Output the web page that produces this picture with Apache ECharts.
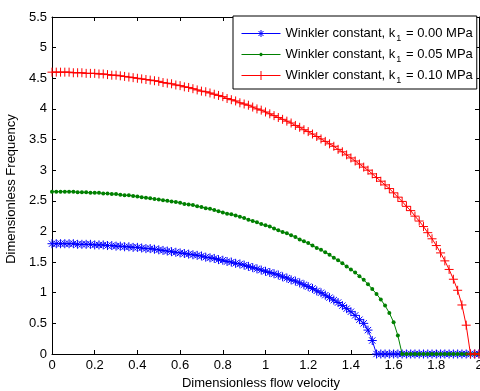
<!DOCTYPE html>
<html>
<head>
<meta charset="utf-8">
<script src="https://cdn.jsdelivr.net/npm/echarts@6/dist/echarts.min.js"></script>
<style>
  html, body { margin: 0; padding: 0; background: #fff; }
  #chart { width: 480px; height: 391px; }
</style>
</head>
<body>
<div id="chart"></div>
<script>
// Dimensionless flow velocity samples
const velocity = [
  0.00, 0.02, 0.04, 0.06, 0.08, 0.10, 0.12, 0.14, 0.16, 0.18,
  0.20, 0.22, 0.24, 0.26, 0.28, 0.30, 0.32, 0.34, 0.36, 0.38,
  0.40, 0.42, 0.44, 0.46, 0.48, 0.50, 0.52, 0.54, 0.56, 0.58,
  0.60, 0.62, 0.64, 0.66, 0.68, 0.70, 0.72, 0.74, 0.76, 0.78,
  0.80, 0.82, 0.84, 0.86, 0.88, 0.90, 0.92, 0.94, 0.96, 0.98,
  1.00, 1.02, 1.04, 1.06, 1.08, 1.10, 1.12, 1.14, 1.16, 1.18,
  1.20, 1.22, 1.24, 1.26, 1.28, 1.30, 1.32, 1.34, 1.36, 1.38,
  1.40, 1.42, 1.44, 1.46, 1.48, 1.50, 1.52, 1.54, 1.56, 1.58,
  1.60, 1.62, 1.64, 1.66, 1.68, 1.70, 1.72, 1.74, 1.76, 1.78,
  1.80, 1.82, 1.84, 1.86, 1.88, 1.90, 1.92, 1.94, 1.96, 1.98,
  2.00
];

// Dimensionless frequency, Winkler constant k1 = 0.00 MPa
const freqK000 = [
  1.80, 1.80, 1.80, 1.80, 1.80, 1.80, 1.79, 1.79, 1.79, 1.79,
  1.78, 1.78, 1.78, 1.77, 1.77, 1.76, 1.76, 1.75, 1.75, 1.74,
  1.74, 1.73, 1.72, 1.72, 1.71, 1.70, 1.69, 1.68, 1.67, 1.66,
  1.65, 1.64, 1.63, 1.62, 1.61, 1.60, 1.58, 1.57, 1.56, 1.54,
  1.53, 1.51, 1.50, 1.48, 1.47, 1.45, 1.43, 1.41, 1.39, 1.37,
  1.35, 1.33, 1.31, 1.29, 1.26, 1.24, 1.21, 1.19, 1.16, 1.13,
  1.10, 1.07, 1.03, 1.00, 0.96, 0.92, 0.88, 0.84, 0.79, 0.74,
  0.69, 0.63, 0.56, 0.50, 0.39, 0.22, 0, 0, 0, 0,
  0, 0, 0, 0, 0, 0, 0, 0, 0, 0,
  0, 0, 0, 0, 0, 0, 0, 0, 0, 0,
  0
];

// Dimensionless frequency, Winkler constant k1 = 0.05 MPa
const freqK005 = [
  2.65, 2.65, 2.65, 2.65, 2.65, 2.65, 2.64, 2.64, 2.64, 2.63,
  2.63, 2.63, 2.62, 2.62, 2.61, 2.61, 2.60, 2.59, 2.59, 2.58,
  2.57, 2.56, 2.55, 2.54, 2.53, 2.52, 2.51, 2.50, 2.49, 2.48,
  2.47, 2.45, 2.44, 2.43, 2.41, 2.40, 2.38, 2.37, 2.35, 2.33,
  2.31, 2.29, 2.28, 2.26, 2.24, 2.22, 2.19, 2.17, 2.15, 2.12,
  2.10, 2.08, 2.05, 2.02, 1.99, 1.97, 1.94, 1.91, 1.87, 1.84,
  1.81, 1.77, 1.73, 1.70, 1.66, 1.62, 1.57, 1.53, 1.48, 1.43,
  1.38, 1.33, 1.27, 1.21, 1.14, 1.06, 0.98, 0.89, 0.79, 0.67,
  0.52, 0.30, 0, 0, 0, 0, 0, 0, 0, 0,
  0, 0, 0, 0, 0, 0, 0, 0, 0, 0,
  0
];

// Dimensionless frequency, Winkler constant k1 = 0.10 MPa
const freqK010 = [
  4.60, 4.60, 4.60, 4.60, 4.60, 4.59, 4.59, 4.59, 4.58, 4.58,
  4.58, 4.57, 4.57, 4.56, 4.55, 4.55, 4.54, 4.53, 4.52, 4.51,
  4.50, 4.49, 4.48, 4.47, 4.46, 4.45, 4.43, 4.42, 4.41, 4.39,
  4.38, 4.36, 4.35, 4.33, 4.31, 4.29, 4.28, 4.26, 4.24, 4.22,
  4.20, 4.17, 4.15, 4.13, 4.10, 4.08, 4.06, 4.03, 4.00, 3.98,
  3.95, 3.92, 3.89, 3.86, 3.83, 3.80, 3.77, 3.73, 3.70, 3.66,
  3.63, 3.59, 3.55, 3.51, 3.47, 3.43, 3.39, 3.34, 3.30, 3.25,
  3.20, 3.15, 3.10, 3.05, 3.00, 2.94, 2.88, 2.82, 2.76, 2.70,
  2.63, 2.56, 2.49, 2.41, 2.34, 2.25, 2.17, 2.08, 1.98, 1.88,
  1.77, 1.65, 1.52, 1.38, 1.22, 1.04, 0.80, 0.47, 0, 0,
  0
];

const seriesNames = ['k1 = 0.00 MPa', 'k1 = 0.05 MPa', 'k1 = 0.10 MPa'];
const legendValues = ['0.00', '0.05', '0.10'];
const seriesColors = ['#0000ff', '#008000', '#ff0000'];

const FONT = 'Liberation Sans, Arial, Helvetica, sans-serif';
const FS = 13;

// Marker glyphs
const ASTERISK = 'path://M5,0L5,10M0,5L10,5M1.5,1.5L8.5,8.5M8.5,1.5L1.5,8.5';
const PLUS = 'path://M5,0L5,10M0,5L10,5';

// Legend keys: short line sample with the marker in its middle
const legendIcons = [
  'path://M0,4.5L39,4.5M19.5,1L19.5,8M16,4.5L23,4.5M17,2L22,7M22,2L17,7',
  'path://M0,4.5L39,4.5M18.2,4.5A1.3,1.3,0,1,0,20.8,4.5A1.3,1.3,0,1,0,18.2,4.5Z',
  'path://M0,4.5L39,4.5M19.5,0L19.5,9M15,4.5L24,4.5'
];

function pairs(ys) {
  return velocity.map((x, i) => [x, ys[i]]);
}

function trimNum(v) {
  return String(parseFloat(Number(v).toFixed(2)));
}

const axisLineStyle = { color: '#000', width: 1 };

const chart = echarts.init(document.getElementById('chart'), null, { renderer: 'canvas' });

chart.setOption({
  animation: false,
  backgroundColor: '#fff',
  grid: { left: 52, right: 1, top: 17, bottom: 37, containLabel: false, outerBoundsMode: 'none' },
  legend: {
    orient: 'vertical',
    left: 233,
    top: 16,
    padding: [11, 4, 4, 8],
    itemGap: 5,
    itemWidth: 39,
    itemHeight: 9,
    symbolKeepAspect: true,
    backgroundColor: '#fff',
    borderColor: '#000',
    borderWidth: 1,
    borderRadius: 0,
    data: seriesNames.map((n, i) => ({
      name: n,
      icon: legendIcons[i],
      itemStyle: { color: seriesColors[i], borderColor: seriesColors[i], borderWidth: 1 }
    })),
    formatter: function (name) {
      const v = legendValues[seriesNames.indexOf(name)];
      return '{t|Winkler constant, k}{s|1}{t| = ' + v + ' MPa}';
    },
    textStyle: {
      color: '#000',
      fontFamily: FONT,
      fontSize: FS,
      rich: {
        t: { fontFamily: FONT, fontSize: FS, color: '#000', height: 16, verticalAlign: 'middle' },
        s: { fontFamily: FONT, fontSize: 9, color: '#000', height: 16, verticalAlign: 'bottom', padding: [0, 1, -5, 1] }
      }
    }
  },
  xAxis: [
    {
      type: 'value', min: 0, max: 2, interval: 0.2, position: 'bottom',
      name: 'Dimensionless flow velocity', nameLocation: 'middle', nameGap: 22,
      nameTextStyle: { color: '#000', fontFamily: FONT, fontSize: FS, padding: [0, 9, 0, 0] },
      axisLine: { show: true, onZero: false, lineStyle: axisLineStyle },
      axisTick: { show: true, inside: true, length: 4, lineStyle: axisLineStyle },
      axisLabel: { color: '#000', fontFamily: FONT, fontSize: FS, margin: 5, formatter: trimNum, showMaxLabel: true, showMinLabel: true },
      splitLine: { show: false }
    },
    {
      type: 'value', min: 0, max: 2, interval: 0.2, position: 'top',
      axisLine: { show: true, onZero: false, lineStyle: axisLineStyle },
      axisTick: { show: true, inside: true, length: 4, lineStyle: axisLineStyle },
      axisLabel: { show: false },
      splitLine: { show: false }
    }
  ],
  yAxis: [
    {
      type: 'value', min: 0, max: 5.5, interval: 0.5, position: 'left',
      name: 'Dimensionless Frequency', nameLocation: 'middle', nameGap: 28.5, nameRotate: 90,
      nameTextStyle: { color: '#000', fontFamily: FONT, fontSize: FS, padding: [0, 7, 0, 0] },
      axisLine: { show: true, onZero: false, lineStyle: axisLineStyle },
      axisTick: { show: true, inside: true, length: 4, lineStyle: axisLineStyle },
      axisLabel: { color: '#000', fontFamily: FONT, fontSize: FS, margin: 5, formatter: trimNum, showMaxLabel: true, showMinLabel: true },
      splitLine: { show: false }
    },
    {
      type: 'value', min: 0, max: 5.5, interval: 0.5, position: 'right',
      axisLine: { show: true, onZero: false, lineStyle: axisLineStyle },
      axisTick: { show: true, inside: true, length: 4, lineStyle: axisLineStyle },
      axisLabel: { show: false },
      splitLine: { show: false }
    }
  ],
  series: [
    {
      name: seriesNames[0], type: 'line', xAxisIndex: 0, yAxisIndex: 0,
      data: pairs(freqK000),
      symbol: ASTERISK, symbolSize: 9, showAllSymbol: true,
      lineStyle: { color: seriesColors[0], width: 1 },
      itemStyle: { color: seriesColors[0], borderColor: seriesColors[0], borderWidth: 1 },
      z: 2
    },
    {
      name: seriesNames[1], type: 'line', xAxisIndex: 0, yAxisIndex: 0,
      data: pairs(freqK005),
      symbol: 'circle', symbolSize: 4, showAllSymbol: true,
      lineStyle: { color: seriesColors[1], width: 1 },
      itemStyle: { color: seriesColors[1], borderWidth: 0 },
      z: 3
    },
    {
      name: seriesNames[2], type: 'line', xAxisIndex: 0, yAxisIndex: 0,
      data: pairs(freqK010),
      symbol: PLUS, symbolSize: 9, showAllSymbol: true,
      lineStyle: { color: seriesColors[2], width: 1 },
      itemStyle: { color: seriesColors[2], borderColor: seriesColors[2], borderWidth: 1 },
      z: 4
    }
  ]
});
</script>
</body>
</html>
